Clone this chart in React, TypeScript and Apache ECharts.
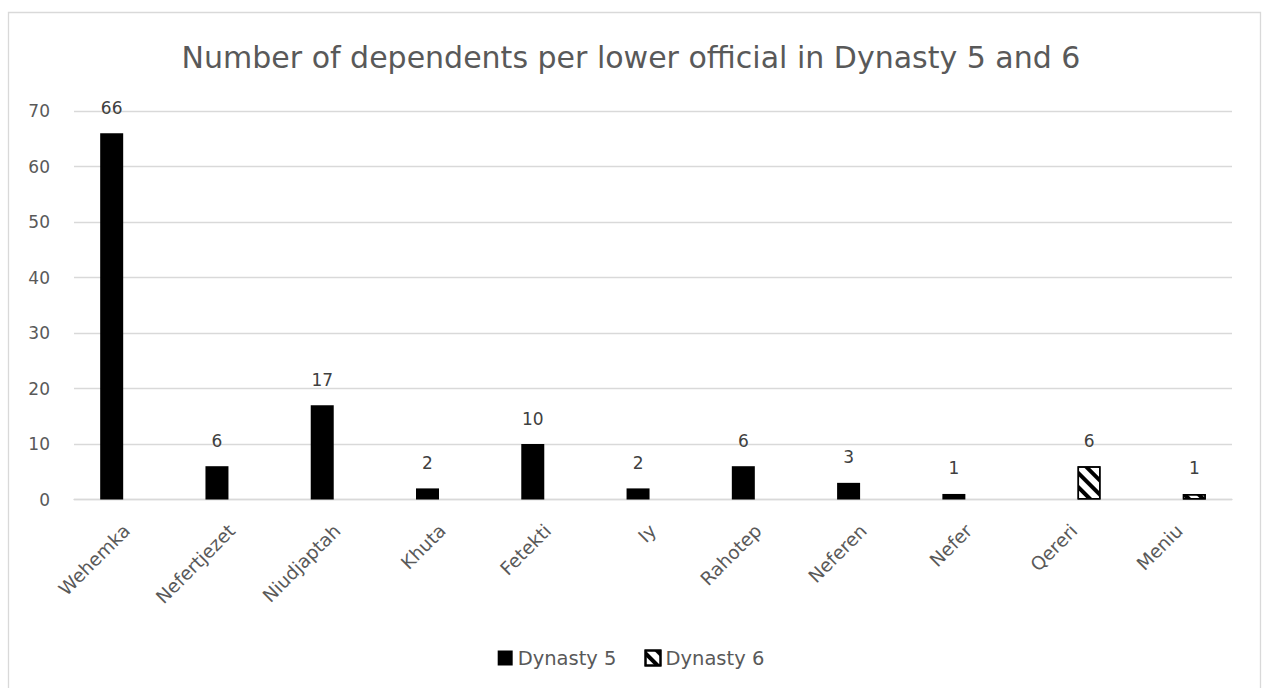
import React, { useEffect, useRef } from "react";
import * as echarts from "echarts";

const categories = [
  "Wehemka",
  "Nefertjezet",
  "Niudjaptah",
  "Khuta",
  "Fetekti",
  "Iy",
  "Rahotep",
  "Neferen",
  "Nefer",
  "Qereri",
  "Meniu",
];
const dynasty5 = [66, 6, 17, 2, 10, 2, 6, 3, 1, null, null];
const dynasty6 = [null, null, null, null, null, null, null, null, null, 6, 1];
const yTicks = { min: 0, max: 70, interval: 10 };

const TEXT = "#595959";
const FONT = "DejaVu Sans";

export default function App() {
  const ref = useRef<HTMLDivElement>(null);

  useEffect(() => {
    if (!ref.current) return;
    const chart = echarts.init(ref.current, null, { renderer: "svg" });

    const label = {
      show: true,
      position: "top" as const,
      distance: 17,
      color: "#404040",
      fontSize: 17,
      fontFamily: FONT,
    };

    chart.setOption({
      animation: false,
      backgroundColor: "#fff",
      title: {
        text: "Number of dependents per lower official in Dynasty 5 and 6",
        left: "center",
        top: 37,
        textStyle: {
          color: TEXT,
          fontSize: 30,
          fontWeight: "normal",
          fontFamily: FONT,
        },
      },
      graphic: [
        {
          type: "rect",
          shape: { x: 8.5, y: 12.5, width: 1252, height: 700 },
          style: { fill: "none", stroke: "#d9d9d9", lineWidth: 1.3 },
          silent: true,
        },
      ],
      legend: {
        top: 643,
        left: "center",
        icon: "rect",
        itemWidth: 15,
        itemHeight: 15,
        itemGap: 28,
        textStyle: { color: TEXT, fontSize: 19.5, fontFamily: FONT },
        data: ["Dynasty 5", "Dynasty 6"],
      },
      grid: { left: 74, right: 30, top: 111, bottom: 188.5 },
      xAxis: {
        type: "category",
        data: categories,
        axisLine: { lineStyle: { color: "#d9d9d9", width: 1.3 } },
        axisTick: { show: false },
        axisLabel: {
          rotate: 45,
          margin: 28,
          color: TEXT,
          fontSize: 18.5,
          fontFamily: FONT,
          interval: 0,
        },
      },
      yAxis: {
        type: "value",
        min: yTicks.min,
        max: yTicks.max,
        interval: yTicks.interval,
        axisLine: { show: false },
        axisTick: { show: false },
        axisLabel: {
          color: TEXT,
          fontSize: 17,
          fontFamily: FONT,
          margin: 24,
        },
        splitLine: { lineStyle: { color: "#d9d9d9", width: 1.3 } },
      },
      series: [
        {
          name: "Dynasty 5",
          type: "bar",
          data: dynasty5,
          barWidth: 23,
          barGap: "30%",
          itemStyle: { color: "#000" },
          label,
        },
        {
          name: "Dynasty 6",
          type: "bar",
          data: dynasty6,
          barWidth: 23,
          barGap: "30%",
          itemStyle: {
            color: "#fff",
            borderColor: "#000",
            borderWidth: 1.5,
            decal: {
              symbol: "rect",
              color: "#000",
              backgroundColor: "#fff",
              dashArrayX: [1, 0],
              dashArrayY: [4, 6],
              rotation: Math.PI / 4,
              symbolSize: 1,
            },
          },
          label,
        },
      ],
    });

    return () => chart.dispose();
  }, []);

  return (
    <div
      ref={ref}
      style={{ position: "absolute", left: 0, top: 0, width: 1262, height: 688 }}
    />
  );
}
